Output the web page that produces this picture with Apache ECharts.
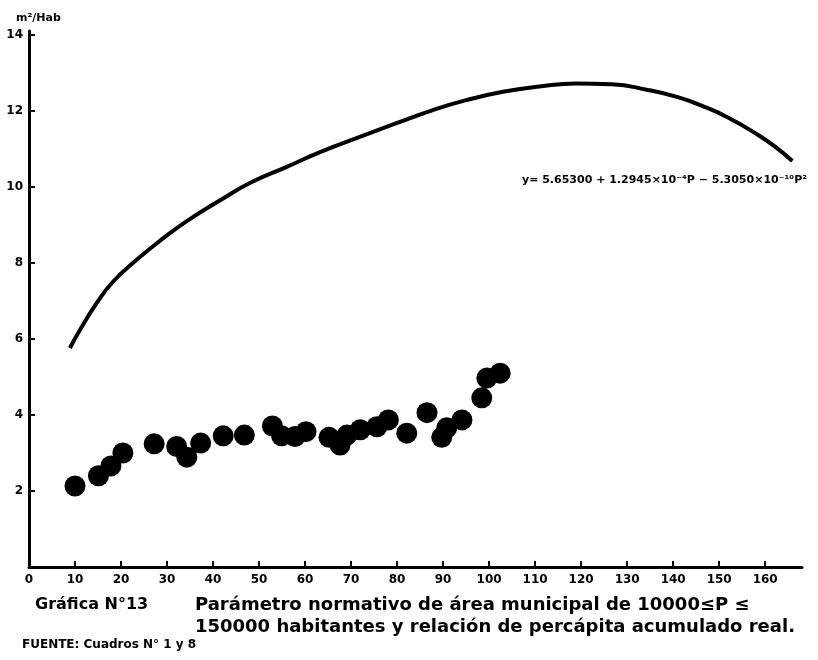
<!DOCTYPE html>
<html>
<head>
<meta charset="utf-8">
<script src="https://cdn.jsdelivr.net/npm/echarts@6/dist/echarts.min.js"></script>
<style>html,body{margin:0;padding:0;background:#fff;}#chart{width:818px;height:660px;}</style>
</head>
<body>
<div id="chart"></div>
<script>
// Observed points: P (thousands of inhabitants) and per-capita area
const obsP = [10.0, 15.1, 17.8, 20.4, 27.2, 32.1, 34.3, 37.3, 42.2, 46.8, 52.9, 54.9, 57.8, 60.2, 65.2, 67.6, 69.1, 72.0, 75.6, 78.1, 82.1, 86.5, 89.7, 90.8, 94.1, 98.4, 99.5, 102.4];
const obsY = [2.13, 2.40, 2.66, 3.00, 3.24, 3.17, 2.89, 3.26, 3.45, 3.47, 3.71, 3.45, 3.43, 3.56, 3.41, 3.21, 3.47, 3.61, 3.69, 3.87, 3.52, 4.06, 3.41, 3.66, 3.87, 4.45, 4.97, 5.10];
// Fitted curve as drawn in the picture
const curveP = [8.9, 11.1, 14.7, 18.3, 23.4, 29.2, 34.3, 42.0, 48.0, 55.9, 63.0, 71.6, 80.0, 87.3, 95.0, 103.0, 111.0, 118.8, 126.6, 134.5, 141.0, 146.3, 152.0, 158.0, 162.0, 165.9];
const curveY = [5.76, 6.24, 6.94, 7.51, 8.08, 8.65, 9.10, 9.68, 10.10, 10.52, 10.90, 11.30, 11.68, 12.00, 12.28, 12.50, 12.64, 12.72, 12.70, 12.55, 12.36, 12.13, 11.82, 11.40, 11.07, 10.68];
const xTicks = [0,10,20,30,40,50,60,70,80,90,100,110,120,130,140,150,160];
const yTicks = [2,4,6,8,10,12,14];
const yUnit = 'm²/Hab';
const equation = 'y= 5.65300 + 1.2945×10⁻⁴P − 5.3050×10⁻¹⁰P²';
const captionTitle = 'Gráfica N°13';
const captionLine1 = 'Parámetro normativo de área municipal de 10000≤P ≤';
const captionLine2 = '150000 habitantes y relación de percápita acumulado real.';
const sourceLine = 'FUENTE: Cuadros N° 1 y 8';

const chart = echarts.init(document.getElementById('chart'));
const font = 'DejaVu Sans';
chart.setOption({
  backgroundColor: '#fff',
  animation: false,
  grid: { left: 29, right: 16, top: 31, bottom: 93 },
  xAxis: {
    type: 'value', min: 0, max: 168, interval: 10,
    axisLine: { lineStyle: { color: '#000', width: 3 } },
    axisTick: { inside: true, length: 6, lineStyle: { color: '#000', width: 2 } },
    axisLabel: { color: '#000', fontFamily: font, fontWeight: 'bold', fontSize: 12, margin: 7,
      showMaxLabel: false,
      formatter: v => xTicks.indexOf(v) >= 0 ? String(v) : '' },
    splitLine: { show: false }
  },
  yAxis: {
    type: 'value', min: 0, max: 14.1, interval: 2,
    axisLine: { show: true, lineStyle: { color: '#000', width: 3 } },
    axisTick: { show: true, inside: true, length: 6, lineStyle: { color: '#000', width: 2 } },
    axisLabel: { color: '#000', fontFamily: font, fontWeight: 'bold', fontSize: 12, margin: 6,
      showMaxLabel: false,
      formatter: v => yTicks.indexOf(v) >= 0 ? String(v) : '' },
    splitLine: { show: false }
  },
  series: [
    {
      type: 'line', smooth: 0.5, showSymbol: false, symbol: 'none',
      lineStyle: { color: '#000', width: 4 },
      data: curveP.map((p, i) => [p, curveY[i]])
    },
    {
      type: 'scatter', symbolSize: 21,
      itemStyle: { color: '#000', opacity: 1 },
      data: obsP.map((p, i) => [p, obsY[i]])
    }
  ],
  graphic: [
    { type: 'text', left: 16, top: 13, style: { text: yUnit, fill: '#000', font: 'bold 11px "DejaVu Sans"' } },
    { type: 'text', left: 522, top: 175, style: { text: equation, fill: '#000', font: 'bold 11px "DejaVu Sans"' } },
    { type: 'text', left: 35, top: 597, style: { text: captionTitle, fill: '#000', font: 'bold 16px "DejaVu Sans"' } },
    { type: 'text', left: 195, top: 596, style: { text: captionLine1, fill: '#000', font: 'bold 18px "DejaVu Sans"' } },
    { type: 'text', left: 195, top: 618, style: { text: captionLine2, fill: '#000', font: 'bold 18px "DejaVu Sans"' } },
    { type: 'text', left: 22, top: 639, style: { text: sourceLine, fill: '#000', font: 'bold 12px "DejaVu Sans"' } }
  ]
});
</script>
</body>
</html>
